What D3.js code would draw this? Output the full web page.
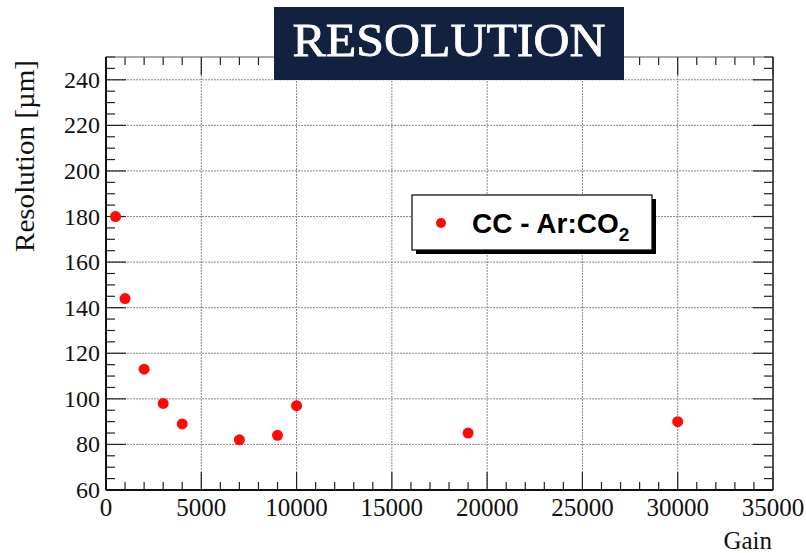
<!DOCTYPE html>
<html>
<head>
<meta charset="utf-8">
<script src="https://cdn.jsdelivr.net/npm/d3@7"></script>
<style>
  body { margin: 0; background: #fff; }
  svg { display: block; }
</style>
</head>
<body>
<script>
// data
var gain = [500, 1000, 2000, 3000, 4000, 7000, 9000, 10000, 19000, 30000];
var resolution = [180, 144, 113, 98, 89, 82, 84, 97, 85, 90];
var xTicks = [0, 5000, 10000, 15000, 20000, 25000, 30000, 35000];
var yTicks = [60, 80, 100, 120, 140, 160, 180, 200, 220, 240];

(function() {

	var width = 806, height = 553;
	var pLeft = 106, pRight = 773, pTop = 57, pBottom = 490;

	var svg = d3.select('body').append('svg')
		.attr('width', width)
		.attr('height', height);

	var x = d3.scaleLinear().domain([0, 35000]).range([pLeft, pRight]);
	var y = d3.scaleLinear().domain([60, 250]).range([pBottom, pTop]);

	var g = svg.append('g');

	// dotted grid on major ticks
	g.selectAll('.gx').data(xTicks.slice(1, -1)).enter().append('line')
		.attr('x1', function(d) { return x(d); })
		.attr('x2', function(d) { return x(d); })
		.attr('y1', pTop).attr('y2', pBottom)
		.attr('stroke', '#888').attr('stroke-width', 1)
		.attr('stroke-dasharray', '2,1');

	g.selectAll('.gy').data(yTicks.slice(1)).enter().append('line')
		.attr('y1', function(d) { return y(d); })
		.attr('y2', function(d) { return y(d); })
		.attr('x1', pLeft).attr('x2', pRight)
		.attr('stroke', '#888').attr('stroke-width', 1)
		.attr('stroke-dasharray', '2,1');

	// minor and major ticks on all four sides
	var xMinor = d3.range(0, 35001, 1000);
	var yMinor = d3.range(60, 251, 5);

	function isMajorX(d) { return d % 5000 === 0; }
	function isMajorY(d) { return d % 20 === 0; }

	[pBottom, pTop].forEach(function(y0, i) {
		var dir = i === 0 ? -1 : 1;
		g.append('g').selectAll('line').data(xMinor).enter().append('line')
			.attr('x1', function(d) { return x(d); })
			.attr('x2', function(d) { return x(d); })
			.attr('y1', y0)
			.attr('y2', function(d) { return y0 + dir * (isMajorX(d) ? 18 : 8); })
			.attr('stroke', '#222').attr('stroke-width', 1.2);
	});

	[pLeft, pRight].forEach(function(x0, i) {
		var dir = i === 0 ? 1 : -1;
		g.append('g').selectAll('line').data(yMinor).enter().append('line')
			.attr('y1', function(d) { return y(d); })
			.attr('y2', function(d) { return y(d); })
			.attr('x1', x0)
			.attr('x2', function(d) { return x0 + dir * (isMajorY(d) ? 20 : 9); })
			.attr('stroke', '#222').attr('stroke-width', 1.2);
	});

	// frame
	g.append('rect')
		.attr('x', pLeft).attr('y', pTop)
		.attr('width', pRight - pLeft).attr('height', pBottom - pTop)
		.attr('fill', 'none').attr('stroke', '#555').attr('stroke-width', 1);

	g.append('line').attr('x1', pLeft).attr('x2', pLeft).attr('y1', pTop).attr('y2', pBottom)
		.attr('stroke', '#111').attr('stroke-width', 2);
	g.append('line').attr('x1', pLeft).attr('x2', pRight).attr('y1', pBottom).attr('y2', pBottom)
		.attr('stroke', '#111').attr('stroke-width', 2);
	g.append('line').attr('x1', pRight).attr('x2', pRight).attr('y1', pTop).attr('y2', pBottom)
		.attr('stroke', '#333').attr('stroke-width', 1.5);

	// tick labels
	g.selectAll('.xl').data(xTicks).enter().append('text')
		.attr('x', function(d) { return x(d); })
		.attr('y', 516)
		.attr('text-anchor', 'middle')
		.attr('font-family', 'Liberation Serif, serif')
		.attr('font-size', 25)
		.attr('fill', '#111')
		.text(function(d) { return d; });

	g.selectAll('.yl').data(yTicks).enter().append('text')
		.attr('x', 100)
		.attr('y', function(d) { return y(d) + 8; })
		.attr('text-anchor', 'end')
		.attr('font-family', 'Liberation Serif, serif')
		.attr('font-size', 24)
		.attr('fill', '#111')
		.text(function(d) { return d; });

	// axis titles
	svg.append('text')
		.attr('x', 772).attr('y', 549)
		.attr('text-anchor', 'end')
		.attr('font-family', 'Liberation Serif, serif')
		.attr('font-size', 25)
		.attr('fill', '#111')
		.text('Gain');

	svg.append('text')
		.attr('transform', 'translate(34,60) rotate(-90)')
		.attr('text-anchor', 'end')
		.attr('font-family', 'Liberation Serif, serif')
		.attr('font-size', 28)
		.attr('fill', '#111')
		.attr('textLength', 192)
		.attr('lengthAdjust', 'spacingAndGlyphs')
		.text('Resolution [\u00b5m]');

	// data points
	g.selectAll('.pt').data(gain).enter().append('circle')
		.attr('cx', function(d) { return x(d); })
		.attr('cy', function(d, i) { return y(resolution[i]); })
		.attr('r', 5.5)
		.attr('fill', '#ff0a0a');

	// legend
	var lx = 412, ly = 195, lw = 240, lh = 55;
	svg.append('rect').attr('x', lx + 4).attr('y', ly + 4)
		.attr('width', lw).attr('height', lh).attr('fill', '#000');
	svg.append('rect').attr('x', lx).attr('y', ly)
		.attr('width', lw).attr('height', lh)
		.attr('fill', '#fff').attr('stroke', '#000').attr('stroke-width', 1.2);
	svg.append('circle').attr('cx', 441).attr('cy', 223).attr('r', 5).attr('fill', '#ff0a0a');
	var lt = svg.append('text')
		.attr('x', 472).attr('y', 233)
		.attr('font-family', 'Liberation Sans, Arial, sans-serif')
		.attr('font-weight', 'bold')
		.attr('font-size', 28)
		.attr('fill', '#000');
	lt.append('tspan').text('CC - Ar:CO');
	lt.append('tspan').attr('font-size', 19).attr('dy', 8).text('2');

	// title banner
	svg.append('rect')
		.attr('x', 274).attr('y', 7)
		.attr('width', 350).attr('height', 73)
		.attr('fill', '#12213f');
	svg.append('text')
		.attr('x', 449).attr('y', 56)
		.attr('text-anchor', 'middle')
		.attr('font-family', 'Liberation Serif, serif')
		.attr('font-size', 47)
		.attr('fill', '#fff')
		.attr('stroke', '#fff')
		.attr('stroke-width', 0.8)
		.attr('textLength', 313)
		.attr('lengthAdjust', 'spacingAndGlyphs')
		.text('RESOLUTION');
})();
</script>
</body>
</html>
